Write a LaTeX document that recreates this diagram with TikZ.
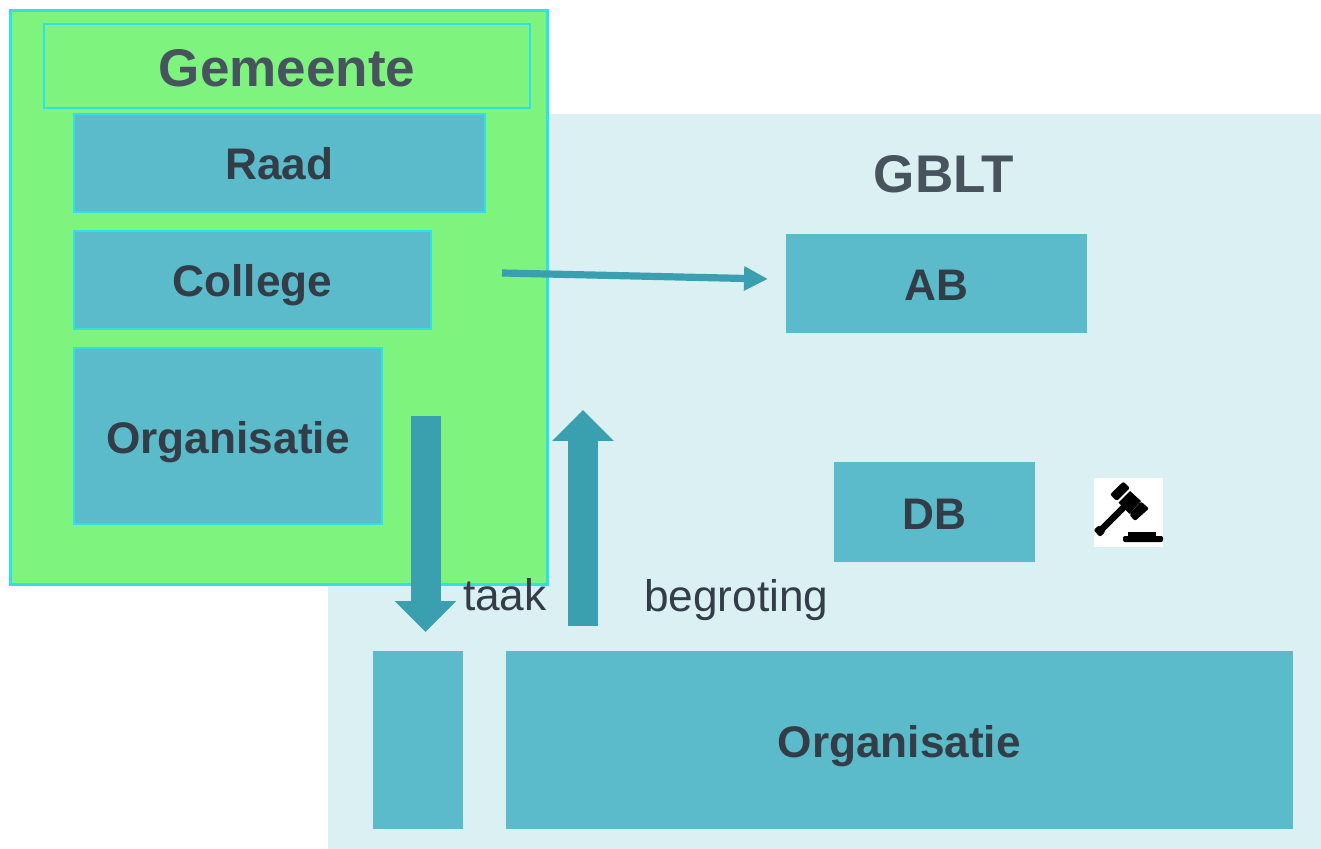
\documentclass[tikz,border=0pt]{standalone}
\usepackage{fontspec}
\setmainfont{Liberation Sans}
\usetikzlibrary{arrows.meta}
\definecolor{paleblue}{HTML}{DAF0F3}
\definecolor{boxblue}{HTML}{5BBBCA}
\definecolor{arrowblue}{HTML}{3AA0B0}
\definecolor{gemgreen}{HTML}{7EF47E}
\definecolor{gemcyan}{HTML}{2EE0E8}
\definecolor{darktext}{HTML}{333D47}
\definecolor{headtext}{HTML}{47545E}
\tikzset{
  box/.style={fill=boxblue,inner sep=0pt,outer sep=0pt,text height=17pt,text depth=0pt,font=\bfseries\fontsize{22.1}{26}\selectfont,text=darktext},
  gembox/.style={box,draw=gemcyan,line width=1pt},
  blockarrow/.style={draw=arrowblue,line width=15pt,-{Triangle[length=15.5pt,width=30pt]}},
  thinarrow/.style={draw=arrowblue,line width=3.6pt,-{Triangle[length=12pt,width=11.5pt]}},
  plain/.style={inner sep=0pt,outer sep=0pt,text=darktext,font=\fontsize{22.1}{26}\selectfont},
  head/.style={inner sep=0pt,outer sep=0pt,text=headtext,font=\bfseries\fontsize{26.5}{30}\selectfont}
}
\begin{document}
\begin{tikzpicture}[x=0.5pt,y=-0.5pt]
  \useasboundingbox (0,0) rectangle (1321,849);
  % GBLT background
  \fill[paleblue] (328,114) rectangle (1321,849);
  \node[head] (gblt) at (944,174) {GBLT};
  \node[box,minimum width=150.5pt,minimum height=49.5pt] (ab) at (936.5,283.5) {AB};
  \node[box,minimum width=100.5pt,minimum height=50pt] (db) at (934.5,512) {DB};
  \node[box,minimum width=45pt,minimum height=89pt] (staf) at (418,740) {};
  \node[box,minimum width=393.5pt,minimum height=89pt] (orgb) at (899.25,740) {Organisatie};

  % Gemeente
  \draw[gemcyan,line width=1.5pt,fill=gemgreen] (10.5,10.5) rectangle (547.5,584.5);
  \node[head,draw=gemcyan,line width=1pt,text height=20pt,text depth=0pt,minimum width=243pt,minimum height=42pt] (gemeente) at (287,66.5) {Gemeente};
  \node[gembox,minimum width=205.5pt,minimum height=49pt] (raad) at (279.5,163) {Raad};
  \node[gembox,minimum width=178.5pt,minimum height=49pt] (college) at (252.5,280) {College};
  \node[gembox,minimum width=154pt,minimum height=88pt] (orga) at (228,436) {Organisatie};

  % arrows
  \coordinate (c1) at (502,273);
  \coordinate (c2) at (768,279);
  \coordinate (d1) at (425.5,416);
  \coordinate (d2) at (425.5,632);
  \coordinate (u1) at (583,626);
  \coordinate (u2) at (583,410);
  \draw[thinarrow] (c1) -- (c2);
  \draw[blockarrow] (d1) -- (d2);
  \draw[blockarrow] (u1) -- (u2);
  \node[plain,anchor=base west] (taak) at (463,610) {taak};
  \node[plain,anchor=base west] (begroting) at (644,611) {begroting};

  % gavel
  \node[fill=white,inner sep=0pt,outer sep=0pt,minimum size=34.5pt] (gavel) at (1128.5,512.5) {};
  \begin{scope}[black]
    \draw[line width=3.2pt] (1100,531) -- (1124,507);
    \fill (1130,491) -- (1141,501) -- (1129.5,514) -- (1118.5,502.5) -- cycle;
    \fill[rounded corners=1pt] (1110,494.5) -- (1123.3,481.5) -- (1130,488) -- (1116.7,501) -- cycle;
    \fill[rounded corners=1pt] (1129,514.5) -- (1141,501.5) -- (1149,508.5) -- (1135,521) -- cycle;
    \fill[rounded corners=1pt] (1093.5,530) -- (1099.3,525) -- (1105.5,531.7) -- (1100,537) -- cycle;
    \fill[rounded corners=1pt] (1123,536) rectangle (1163,542);
    \fill (1128,532) rectangle (1156,537);
  \end{scope}
\end{tikzpicture}
\end{document}
